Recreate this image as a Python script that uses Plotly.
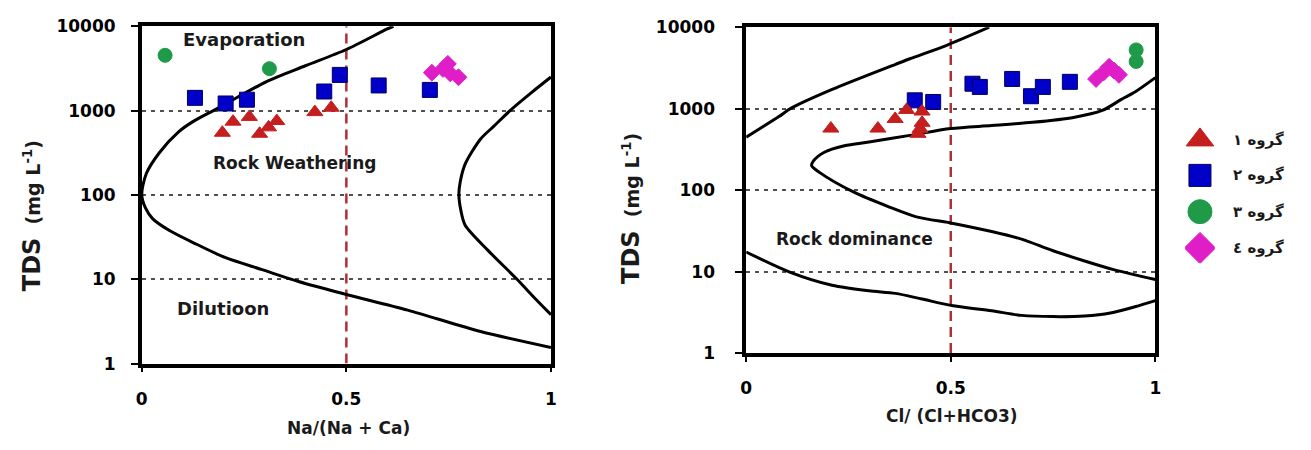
import plotly.graph_objects as go

W, H = 1311, 450

# ---------------- data: left panel (Na/(Na+Ca)) ----------------
g1_na_x = [0.197, 0.223, 0.263, 0.288, 0.310, 0.330, 0.423, 0.463]
g1_na_y = [546, 739, 841, 531, 632, 751, 959, 1081]
g2_na_x = [0.130, 0.205, 0.257, 0.446, 0.484, 0.579, 0.704]
g2_na_y = [1415, 1214, 1346, 1683, 2648, 1986, 1758]
g3_na_x = [0.057, 0.312]
g3_na_y = [4520, 3140]
g4_na_x = [0.709, 0.736, 0.748, 0.754, 0.774]
g4_na_y = [2812, 3120, 3580, 2760, 2485]

# Gibbs boundary curves, left panel
na_outer_x = [0.615, 0.60, 0.50, 0.40, 0.305, 0.205, 0.175, 0.125, 0.090, 0.043, 0.011, 0.0,
              0.009, 0.027, 0.071, 0.134, 0.205, 0.294, 0.383, 0.50, 0.65, 0.828, 1.0]
na_outer_y = [10000, 9300, 5300, 3400, 2210, 1200, 1000, 740, 560, 316, 178, 100,
              70, 52, 37, 26, 18, 13, 9.4, 6.6, 4.3, 2.4, 1.55]
na_inner_x = [1.0, 0.95, 0.90, 0.86, 0.828, 0.79, 0.778, 0.775, 0.78, 0.79, 0.846, 0.917, 0.96, 1.0]
na_inner_y = [2500, 1600, 1000, 650, 460, 230, 140, 100, 65, 44, 22, 10, 6, 3.8]

# ---------------- data: right panel (Cl/(Cl+HCO3)) ----------------
g1_cl_x = [0.207, 0.322, 0.364, 0.392, 0.430, 0.430, 0.420, 0.425]
g1_cl_y = [570, 570, 748, 965, 922, 671, 491, 566]
g2_cl_x = [0.412, 0.457, 0.553, 0.571, 0.650, 0.696, 0.725, 0.791]
g2_cl_y = [1265, 1208, 2024, 1849, 2316, 1422, 1849, 2134]
g3_cl_x = [0.953, 0.953]
g3_cl_y = [5260, 3800]
g4_cl_x = [0.855, 0.874, 0.887, 0.899, 0.911]
g4_cl_y = [2316, 2800, 3266, 2930, 2603]

cl_upper_x = [0.0, 0.08, 0.108, 0.21, 0.365, 0.40, 0.49, 0.594]
cl_upper_y = [446, 800, 1000, 1720, 3500, 4100, 6000, 10000]
cl_mid_x = [1.0, 0.95, 0.917, 0.87, 0.80, 0.70, 0.60, 0.50, 0.40, 0.30, 0.24, 0.19, 0.165, 0.16,
            0.18, 0.262, 0.35, 0.416, 0.506, 0.60, 0.673, 0.75, 0.827, 0.90, 1.0]
cl_mid_y = [2400, 1600, 1300, 950, 780, 680, 620, 570, 470, 390, 350, 290, 230, 200,
            164, 95, 62, 47, 39, 31, 25, 18, 13.5, 10.5, 8]
cl_low_x = [0.0, 0.108, 0.21, 0.30, 0.365, 0.43, 0.506, 0.60, 0.673, 0.75, 0.827, 0.89, 0.95, 1.0]
cl_low_y = [17.4, 9.8, 6.8, 5.8, 5.4, 4.6, 3.8, 3.3, 2.9, 2.8, 2.85, 3.1, 3.7, 4.4]

ref_x = [0.5, 0.5]
ref_y = [1, 10000]

y_tickvals = [1, 10, 100, 1000, 10000]
y_ticktext = ["1", "10", "100", "1000", "10000"]
x_tickvals = [0, 0.5, 1]
x_ticktext = ["0", "0.5", "1"]

legend_labels = ["گروه ١", "گروه ٢", "گروه ٣", "گروه ٤"]
legend_pos = [0.890, 0.634, 0.372, 0.110]

# ---------------- styles ----------------
RED, BLUE, GREEN, MAG = "#c41e1e", "#0000c8", "#1f9a48", "#e01ec8"
FONT = "DejaVu Sans"

fig = go.Figure()

def curve(x, y, xa, ya):
    fig.add_trace(go.Scatter(x=x, y=y, mode="lines", line=dict(color="black", width=3, shape="spline", smoothing=0.8),
                             xaxis=xa, yaxis=ya, showlegend=False, hoverinfo="skip"))

def pts(x, y, xa, ya, sym, color, size, lc):
    fig.add_trace(go.Scatter(x=x, y=y, mode="markers", xaxis=xa, yaxis=ya, showlegend=False,
                             marker=dict(symbol=sym, color=color, size=size, line=dict(color=lc, width=1))))

for xa, ya in [("x", "y"), ("x2", "y2")]:
    fig.add_trace(go.Scatter(x=ref_x, y=ref_y, mode="lines", xaxis=xa, yaxis=ya, showlegend=False,
                             line=dict(color="#b0303a", width=2.5, dash="10px,6px"), hoverinfo="skip"))

curve(na_outer_x, na_outer_y, "x", "y")
curve(na_inner_x, na_inner_y, "x", "y")
curve(cl_upper_x, cl_upper_y, "x2", "y2")
curve(cl_mid_x, cl_mid_y, "x2", "y2")
curve(cl_low_x, cl_low_y, "x2", "y2")

pts(g3_na_x, g3_na_y, "x", "y", "circle", GREEN, 14, GREEN)
pts(g2_na_x, g2_na_y, "x", "y", "square", BLUE, 15, "#000060")
pts(g1_na_x, g1_na_y, "x", "y", "triangle-up", RED, 14, RED)
pts(g4_na_x, g4_na_y, "x", "y", "diamond", MAG, 13, MAG)

pts(g3_cl_x, g3_cl_y, "x2", "y2", "circle", GREEN, 14, GREEN)
pts(g2_cl_x, g2_cl_y, "x2", "y2", "square", BLUE, 15, "#000060")
pts(g1_cl_x, g1_cl_y, "x2", "y2", "triangle-up", RED, 14, RED)
pts(g4_cl_x, g4_cl_y, "x2", "y2", "diamond", MAG, 13, MAG)

# custom legend markers
leg_sym = ["triangle-up", "square", "circle", "diamond"]
leg_col = [RED, BLUE, GREEN, MAG]
leg_size = [24, 22, 24, 24]
for s, c, sz, yp in zip(leg_sym, leg_col, leg_size, legend_pos):
    fig.add_trace(go.Scatter(x=[0.5], y=[yp], mode="markers", xaxis="x3", yaxis="y3", showlegend=False,
                             marker=dict(symbol=s, color=c, size=sz,
                                         line=dict(color="#000060" if s == "square" else c, width=1))))

def px(x):
    return x / W

def py(y):
    return 1 - y / H

tickfont = dict(family=FONT, size=17, color="black", weight="bold")
def yax(standoff):
    return dict(type="log", range=[0, 4], tickvals=y_tickvals, ticktext=y_ticktext, showline=True, mirror=True,
                linecolor="black", linewidth=3.5, ticks="outside", ticklen=7, tickwidth=2, tickcolor="black",
                showgrid=True, gridcolor="#505050", gridwidth=2, griddash="4px,5px", zeroline=False,
                tickfont=tickfont, ticklabelstandoff=standoff)
xax = dict(range=[0, 1], tickvals=x_tickvals, ticktext=x_ticktext, showline=True, mirror=True,
           linecolor="black", linewidth=3.5, ticks="outside", ticklen=5, tickwidth=2, tickcolor="black",
           showgrid=False, zeroline=False, tickfont=tickfont, ticklabelstandoff=12)

fig.update_layout(
    width=W, height=H, margin=dict(l=0, r=0, t=0, b=0),
    paper_bgcolor="white", plot_bgcolor="white", showlegend=False,
    xaxis=dict(domain=[px(137), px(550)], anchor="y", **xax),
    yaxis=dict(domain=[py(370), py(17)], anchor="x", **yax(12)),
    xaxis2=dict(domain=[px(747), px(1160)], anchor="y2", **xax),
    yaxis2=dict(domain=[py(359), py(18)], anchor="x2", **yax(17)),
    xaxis3=dict(domain=[px(1190), px(1220)], anchor="y3", range=[0, 1], visible=False),
    yaxis3=dict(domain=[py(265), py(120)], anchor="x3", range=[0, 1], visible=False),
)

ann = []
def text(x, y, t, size=17, xanchor="center", angle=0, bold=True):
    ann.append(dict(x=px(x), y=py(y), xref="paper", yref="paper", text=t, showarrow=False,
                    xanchor=xanchor, yanchor="middle", textangle=angle,
                    font=dict(family=FONT, size=size, color="#1a1a1a", weight="bold" if bold else "normal")))

text(240, 31, "Evaporation", 18)
text(291, 160, "Rock Weathering", 17)
text(219, 312, "Dilutioon", 18)
text(856, 240, "Rock dominance", 17)
text(346, 437, "Na/(Na + Ca)", 17)
text(955, 425, "Cl/ (Cl+HCO3)", 17)
ytitle = "<span style='font-size:24px'>TDS</span>&nbsp;&nbsp;(mg L<sup>-1</sup>)"
text(27, 215, ytitle, 19, angle=-90)
text(631, 208, ytitle, 19, angle=-90)
for lab, yp in zip(legend_labels, [136, 173, 211, 249]):
    text(1236, yp, lab, 15, xanchor="left")

fig.update_layout(annotations=ann)
fig.write_html("out.html")
